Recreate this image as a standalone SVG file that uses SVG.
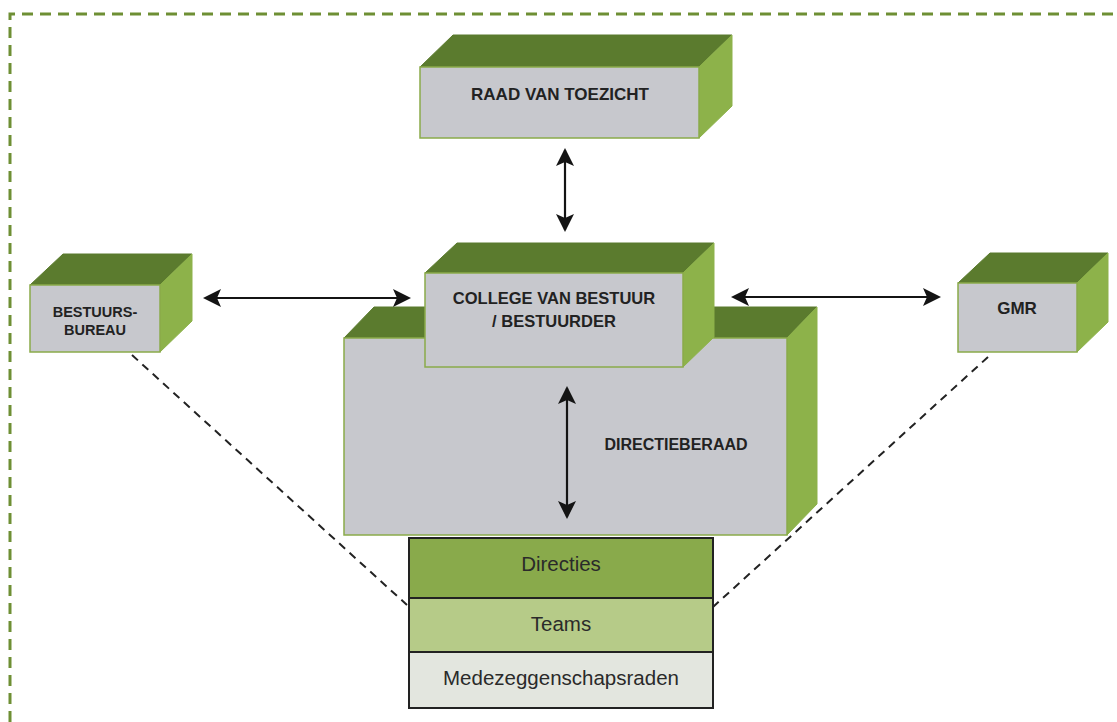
<svg xmlns="http://www.w3.org/2000/svg" width="1117" height="722" viewBox="0 0 1117 722">
<defs>
<marker id="ah" markerUnits="userSpaceOnUse" markerWidth="18" markerHeight="18" viewBox="0 0 18 18" refX="16" refY="9" orient="auto-start-reverse">
<path d="M0,0 L18,9 L0,18 L4,9 Z" fill="#141414"/>
</marker>
</defs>
<style>
.top{fill:#5b7b2e;stroke:#5b7b2e;stroke-width:1}
.side{fill:#8db24a;stroke:#8db24a;stroke-width:1}
.front{fill:#c7c8cd;stroke:#8aab4a;stroke-width:1.5}
.lbl{font-family:"Liberation Sans",Arial,sans-serif;font-weight:bold;fill:#222;text-anchor:middle}
.lay{font-family:"Liberation Sans",Arial,sans-serif;fill:#2a2a2a;text-anchor:middle;font-size:20.5px}
.arr{stroke:#141414;stroke-width:2.2;fill:none;marker-start:url(#ah);marker-end:url(#ah)}
.dash{stroke:#222;stroke-width:2;stroke-dasharray:8 6;fill:none}
.layer{stroke:#222;stroke-width:2}
</style>
<rect width="1117" height="722" fill="#ffffff"/>
<path d="M10,722 L10,14 L1117,14" fill="none" stroke="#6e8f34" stroke-width="3" stroke-dasharray="11 7"/>

<g id="directieberaad">
<polygon class="top" points="344,338 374,307 817,307 787,338"/>
<polygon class="side" points="787,338 817,307 817,504 787,535"/>
<rect class="front" x="344" y="338" width="443" height="197"/>
<text class="lbl" x="676" y="450" font-size="16">DIRECTIEBERAAD</text>
</g>

<g id="college">
<polygon class="top" points="425,273 457,243 714,243 683,273"/>
<polygon class="side" points="683,273 714,243 714,337 683,367"/>
<rect class="front" x="425" y="273" width="258" height="94"/>
<text class="lbl" x="554" y="304" font-size="16.5">COLLEGE VAN BESTUUR</text>
<text class="lbl" x="554" y="327" font-size="16.5">/ BESTUURDER</text>
</g>

<g id="raad">
<polygon class="top" points="420,67 453,35 732,35 699,67"/>
<polygon class="side" points="699,67 732,35 732,106 699,138"/>
<rect class="front" x="420" y="67" width="279" height="71"/>
<text class="lbl" x="560" y="100" font-size="17">RAAD VAN TOEZICHT</text>
</g>

<g id="bestuursbureau">
<polygon class="top" points="30,285 63,254 192,254 160,285"/>
<polygon class="side" points="160,285 192,254 192,321 160,352"/>
<rect class="front" x="30" y="285" width="130" height="67"/>
<text class="lbl" x="95" y="317" font-size="14.5">BESTUURS-</text>
<text class="lbl" x="95" y="335" font-size="14.5">BUREAU</text>
</g>

<g id="gmr">
<polygon class="top" points="958,283 990,253 1108,253 1077,283"/>
<polygon class="side" points="1077,283 1108,253 1108,322 1077,352"/>
<rect class="front" x="958" y="283" width="119" height="69"/>
<text class="lbl" x="1017" y="314" font-size="17">GMR</text>
</g>

<g id="connectors">
<line class="arr" x1="565" y1="150" x2="565" y2="230"/>
<line class="arr" x1="205" y1="298" x2="409" y2="298"/>
<line class="arr" x1="733" y1="297" x2="939" y2="297"/>
<line class="arr" x1="567" y1="388" x2="567" y2="517"/>
<line class="dash" x1="132" y1="355" x2="407" y2="605"/>
<line class="dash" x1="988" y1="357" x2="713" y2="607"/>
</g>

<g id="directies">
<rect class="layer" x="409" y="538" width="304" height="60" fill="#89aa4b"/>
<text class="lay" x="561" y="571">Directies</text>
</g>
<g id="teams">
<rect class="layer" x="409" y="598" width="304" height="54" fill="#b6cb88"/>
<text class="lay" x="561" y="631">Teams</text>
</g>
<g id="medezeggenschapsraden">
<rect class="layer" x="409" y="652" width="304" height="56" fill="#e3e6df"/>
<text class="lay" x="561" y="685">Medezeggenschapsraden</text>
</g>
</svg>
